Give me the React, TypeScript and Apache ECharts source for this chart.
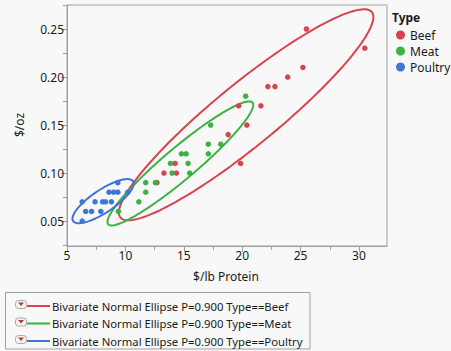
import React, { useEffect, useRef } from "react";
import * as echarts from "echarts";

const types = ["Beef", "Meat", "Poultry"];
const colors = ["#d9434f", "#3db142", "#3f74d8"];

const beefX = [13.3, 14.37, 14.25, 12.7, 18.8, 19.86, 19.7, 20.4, 21.6, 22.2, 22.8, 23.9, 25.2, 25.5, 30.5];
const beefY = [0.10, 0.10, 0.11, 0.09, 0.14, 0.11, 0.17, 0.15, 0.17, 0.19, 0.19, 0.20, 0.21, 0.25, 0.23];

const meatX = [9.4, 11.15, 11.74, 11.74, 12.57, 13.86, 14.0, 14.8, 15.2, 15.37, 15.5, 17.1, 17.1, 18.17, 17.3, 20.3];
const meatY = [0.06, 0.07, 0.08, 0.09, 0.09, 0.11, 0.10, 0.12, 0.12, 0.11, 0.10, 0.13, 0.12, 0.13, 0.15, 0.18];

const poultryX = [6.3, 6.6, 7.1, 6.3, 7.4, 7.9, 8.05, 8.3, 8.8, 8.6, 9.0, 9.35, 10.2, 9.35];
const poultryY = [0.07, 0.06, 0.06, 0.05, 0.07, 0.06, 0.07, 0.07, 0.07, 0.08, 0.08, 0.08, 0.08, 0.09];

const xMajor = [5, 10, 15, 20, 25, 30];
const xMinor = [7.5, 12.5, 17.5, 22.5, 27.5];
const yMajor = [0.05, 0.1, 0.15, 0.2, 0.25];
const yMinor = [0.025, 0.075, 0.125, 0.175, 0.225, 0.275];

const ellipseP = 0.9;
const xTitle = "$/lb Protein";
const yTitle = "$/oz";
const legendTitle = "Type";

const FONT = "'Noto Sans', sans-serif";

function ellipse(xs: number[], ys: number[], p: number): number[][] {
  const n = xs.length;
  const mx = xs.reduce((a, b) => a + b, 0) / n;
  const my = ys.reduce((a, b) => a + b, 0) / n;
  let sxx = 0, syy = 0, sxy = 0;
  for (let i = 0; i < n; i++) {
    sxx += (xs[i] - mx) ** 2;
    syy += (ys[i] - my) ** 2;
    sxy += (xs[i] - mx) * (ys[i] - my);
  }
  sxx /= n - 1; syy /= n - 1; sxy /= n - 1;
  const c = Math.sqrt(-2 * Math.log(1 - p));
  const l11 = Math.sqrt(sxx);
  const l21 = sxy / l11;
  const l22 = Math.sqrt(Math.max(syy - l21 * l21, 0));
  const pts: number[][] = [];
  const N = 160;
  for (let k = 0; k <= N; k++) {
    const t = (2 * Math.PI * k) / N;
    const u = Math.cos(t), v = Math.sin(t);
    pts.push([mx + c * l11 * u, my + c * (l21 * u + l22 * v)]);
  }
  return pts;
}

export default function App() {
  const ref = useRef<HTMLDivElement>(null);
  useEffect(() => {
    if (!ref.current) return;
    const chart = echarts.init(ref.current, null, { renderer: "svg" });
    const groups = [
      [beefX, beefY],
      [meatX, meatY],
      [poultryX, poultryY],
    ];
    const grid = { left: 67, top: 5, width: 320, height: 241, show: true, borderColor: "#a0a0a0", borderWidth: 1, backgroundColor: "transparent" };
    const xMin = 5, xMax = 32.4, yMin = 0.024, yMax = 0.275;
    const series: any[] = [];
    groups.forEach((g, i) => {
      series.push({
        type: "line",
        name: types[i] + " ellipse",
        data: ellipse(g[0], g[1], ellipseP),
        showSymbol: false,
        smooth: false,
        lineStyle: { color: colors[i], width: 2 },
        itemStyle: { color: colors[i] },
        silent: true,
        z: 2,
      });
    });
    groups.forEach((g, i) => {
      series.push({
        type: "scatter",
        name: types[i],
        data: g[0].map((x, k) => [x, g[1][k]]),
        symbolSize: 5.5,
        itemStyle: { color: colors[i], opacity: 1 },
        z: 3,
      });
    });

    const rowsY = [306, 323.5, 341];
    const legendGraphics: any[] = [
      { type: "rect", shape: { x: 5.5, y: 292.5, width: 304.5, height: 56.5 }, style: { fill: "none", stroke: "#a0a0a0", lineWidth: 1 } },
    ];
    types.forEach((t, i) => {
      const y = rowsY[i];
      legendGraphics.push(
        { type: "rect", shape: { x: 15.5, y: y - 5.5, width: 11, height: 8, r: 3 }, style: { fill: "#f4f4f4", stroke: "#a8a8a8", lineWidth: 1 } },
        { type: "polygon", shape: { points: [[18, y - 3.5], [24, y - 3.5], [21, y]] }, style: { fill: "#c8382a" } },
        { type: "line", shape: { x1: 27, y1: y, x2: 50, y2: y }, style: { stroke: colors[i], lineWidth: 2 } },
        { type: "text", x: 52, y: y, style: { text: `Bivariate Normal Ellipse P=${ellipseP.toFixed(3)} Type==${t}`, font: `11.3px ${FONT}`, fill: "#1a1a1a", verticalAlign: "middle" } }
      );
    });

    chart.setOption({
      animation: false,
      backgroundColor: "#f8f8f8",
      textStyle: { fontFamily: FONT },
      grid: [grid],
      xAxis: [
        {
          type: "value", min: xMin, max: xMax, gridIndex: 0,
          axisLine: { show: true, lineStyle: { color: "#a0a0a0" } },
          axisTick: { show: true, length: 6, customValues: xMajor, lineStyle: { color: "#a0a0a0" } },
          axisLabel: { customValues: xMajor, color: "#1a1a1a", fontSize: 12, margin: 3, fontFamily: FONT },
          splitLine: { show: false },
        },
        {
          type: "value", min: xMin, max: xMax, gridIndex: 0, position: "bottom",
          axisLine: { show: false },
          axisTick: { show: true, length: 4, customValues: xMinor, lineStyle: { color: "#a0a0a0" } },
          axisLabel: { show: false },
          splitLine: { show: false },
        },
      ],
      yAxis: [
        {
          type: "value", min: yMin, max: yMax, gridIndex: 0,
          axisLine: { show: true, lineStyle: { color: "#a0a0a0" } },
          axisTick: { show: true, length: 6, customValues: yMajor, lineStyle: { color: "#a0a0a0" } },
          axisLabel: { customValues: yMajor, color: "#1a1a1a", fontSize: 12, margin: 3, fontFamily: FONT, formatter: (v: number) => v.toFixed(2) },
          splitLine: { show: false },
        },
        {
          type: "value", min: yMin, max: yMax, gridIndex: 0, position: "left",
          axisLine: { show: false },
          axisTick: { show: true, length: 4, customValues: yMinor.filter((v) => v >= yMin && v <= yMax), lineStyle: { color: "#a0a0a0" } },
          axisLabel: { show: false },
          splitLine: { show: false },
        },
      ],
      legend: {
        data: types,
        orient: "vertical",
        left: 391,
        top: 24,
        itemWidth: 9,
        itemHeight: 9,
        itemGap: 4,
        icon: "circle",
        textStyle: { fontSize: 12, color: "#1a1a1a", fontFamily: FONT, padding: [0, 0, 0, 0] },
        selectedMode: false,
      },
      graphic: [
        { type: "text", x: 392, y: 17, style: { text: legendTitle, font: `bold 12px ${FONT}`, fill: "#1a1a1a", verticalAlign: "middle" } },
        { type: "text", x: 226, y: 276, style: { text: xTitle, font: `12px ${FONT}`, fill: "#1a1a1a", align: "center", verticalAlign: "middle" } },
        { type: "text", x: 19, y: 125, rotation: Math.PI / 2, style: { text: yTitle, font: `12px ${FONT}`, fill: "#1a1a1a", align: "center", verticalAlign: "middle" } },
        ...legendGraphics,
      ],
      series,
    });
    return () => chart.dispose();
  }, []);
  return <div ref={ref} style={{ position: "fixed", left: 0, top: 0, width: 451, height: 351 }} />;
}
